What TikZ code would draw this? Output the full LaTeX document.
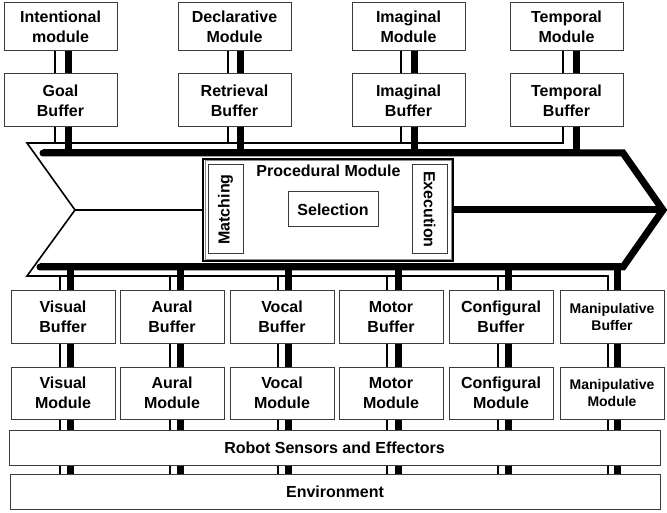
\documentclass[tikz,border=0pt]{standalone}
\usepackage{fontspec}
\setmainfont{Liberation Sans}
\usepackage{xcolor}
\usetikzlibrary{calc}
\definecolor{boxline}{HTML}{3C3C3C}
\definecolor{inline}{HTML}{8A8A8A}
\tikzset{
  box/.style={draw=boxline, line width=1pt, fill=white, inner sep=0pt, align=center,
    font=\bfseries\fontsize{16}{20}\selectfont},
  modbox/.style={box, minimum width=113pt, minimum height=48pt},
  bufbox/.style={box, minimum width=113pt, minimum height=53pt},
  lowbox/.style={box, minimum width=104pt, minimum height=52pt},
  widebox/.style={box, minimum width=651pt, minimum height=35pt},
  sidebox/.style={box, minimum width=89pt, minimum height=35pt},
  smalltext/.style={font=\bfseries\fontsize{14}{17}\selectfont},
  lab/.style={font=\bfseries\fontsize{16}{20}\selectfont, inner sep=0pt},
  thinbus/.style={draw=black, line width=1.6pt},
  thickbus/.style={draw=black, line width=7pt},
}
\begin{document}
\begin{tikzpicture}[x=1pt, y=-1pt]
  \useasboundingbox (0,0) rectangle (667,513);

  \node[modbox] (intent) at (60.5,27) {Intentional\\module};
  \node[bufbox] (goal) at (60.5,100.5) {Goal\\Buffer};
  \node[modbox] (decl) at (234.5,27) {Declarative\\Module};
  \node[bufbox] (retr) at (234.5,100.5) {Retrieval\\Buffer};
  \node[modbox] (imagm) at (408.5,27) {Imaginal\\Module};
  \node[bufbox] (imagb) at (408.5,100.5) {Imaginal\\Buffer};
  \node[modbox] (tempm) at (566.5,27) {Temporal\\Module};
  \node[bufbox] (tempb) at (566.5,100.5) {Temporal\\Buffer};

  \node[lowbox] (visb) at (63,317) {Visual\\Buffer};
  \node[lowbox] (vism) at (63,393) {Visual\\Module};
  \node[lowbox] (aurb) at (172,317) {Aural\\Buffer};
  \node[lowbox] (aurm) at (172,393) {Aural\\Module};
  \node[lowbox] (vocb) at (282,317) {Vocal\\Buffer};
  \node[lowbox] (vocm) at (282,393) {Vocal\\Module};
  \node[lowbox] (motb) at (391,317) {Motor\\Buffer};
  \node[lowbox] (motm) at (391,393) {Motor\\Module};
  \node[lowbox] (conb) at (501,317) {Configural\\Buffer};
  \node[lowbox] (conm) at (501,393) {Configural\\Module};
  \node[lowbox, smalltext] (manb) at (612,317) {Manipulative\\Buffer};
  \node[lowbox, smalltext] (manm) at (612,393) {Manipulative\\Module};

  \node[widebox] (robot) at (334.5,447.5) {Robot Sensors and Effectors};
  \node[widebox, minimum width=650pt] (env) at (335,491.5) {Environment};

  \coordinate (tl) at (27,143);
  \coordinate (notch) at (75,210);
  \coordinate (bl) at (27,276);
  \coordinate (tr) at (623,153);
  \coordinate (tip) at (663,210);
  \coordinate (br) at (623,267);
  \coordinate (topcap) at (43,153);
  \coordinate (botcap) at (40,267);

  \draw[thinbus, line join=miter] ([xshift=-3.5pt]tempb.south) |- (tl) -- (notch) -- (bl)
    -| ([xshift=-4pt]manb.north);
  \draw[thickbus, line cap=round, line join=miter] (topcap) -- (tr) -- (tip) -- (br) -- (botcap);

  \foreach \m/\b/\dl/\dr in {intent/goal/-5.5/7.5, decl/retr/-6.5/5.5, imagm/imagb/-7.5/5.5, tempm/tempb/-3.5/9.5} {
    \coordinate (p) at ([xshift=\dl pt]\b.north);
    \coordinate (q) at ([xshift=\dr pt]\b.north);
    \draw[thinbus] (\m.south -| p) -- (\b.north -| p);
    \draw[thinbus] (\b.south -| p) |- (tl);
    \draw[thickbus] (\m.south -| q) -- (\b.north -| q);
    \draw[thickbus] (\b.south -| q) |- (topcap);
  }

  \foreach \b/\m/\dl/\dr in {visb/vism/-3/7.5, aurb/aurm/-2/8, vocb/vocm/-4/6.5, motb/motm/-4/7, conb/conm/-3/7.5, manb/manm/-4/5.5} {
    \coordinate (p) at ([xshift=\dl pt]\b.north);
    \coordinate (q) at ([xshift=\dr pt]\b.north);
    \draw[thinbus] (p) |- (bl);
    \draw[thickbus] (q) |- (botcap);
    \draw[thinbus] (\b.south -| p) -- (\m.north -| p);
    \draw[thickbus] (\b.south -| q) -- (\m.north -| q);
    \draw[thinbus] (\m.south -| p) -- (robot.north -| p);
    \draw[thickbus] (\m.south -| q) -- (robot.north -| q);
    \draw[thinbus] (robot.south -| p) -- (env.north -| p);
    \draw[thickbus] (robot.south -| q) -- (env.north -| q);
  }

  \node[box, draw=black, line width=1.2pt, minimum width=250pt, minimum height=102pt] (proc) at (328,210) {};
  \draw[inline, line width=0.8pt] ([shift={(2.5,2.5)}]proc.north west) rectangle ([shift={(-2.5,-2.5)}]proc.south east);
  \node[lab] (proctitle) at (328.5,171) {Procedural Module};
  \node[sidebox, rotate=90] (match) at (225.5,209.5) {Matching};
  \node[sidebox, rotate=-90] (exec) at (429.5,209.5) {Execution};
  \node[box, minimum width=90pt, minimum height=35pt] (select) at (333,209.5) {Selection};

  \draw[thinbus] (notch) -- (proc.west);
  \draw[thickbus] (proc.east) -- (tip);
\end{tikzpicture}
\end{document}
